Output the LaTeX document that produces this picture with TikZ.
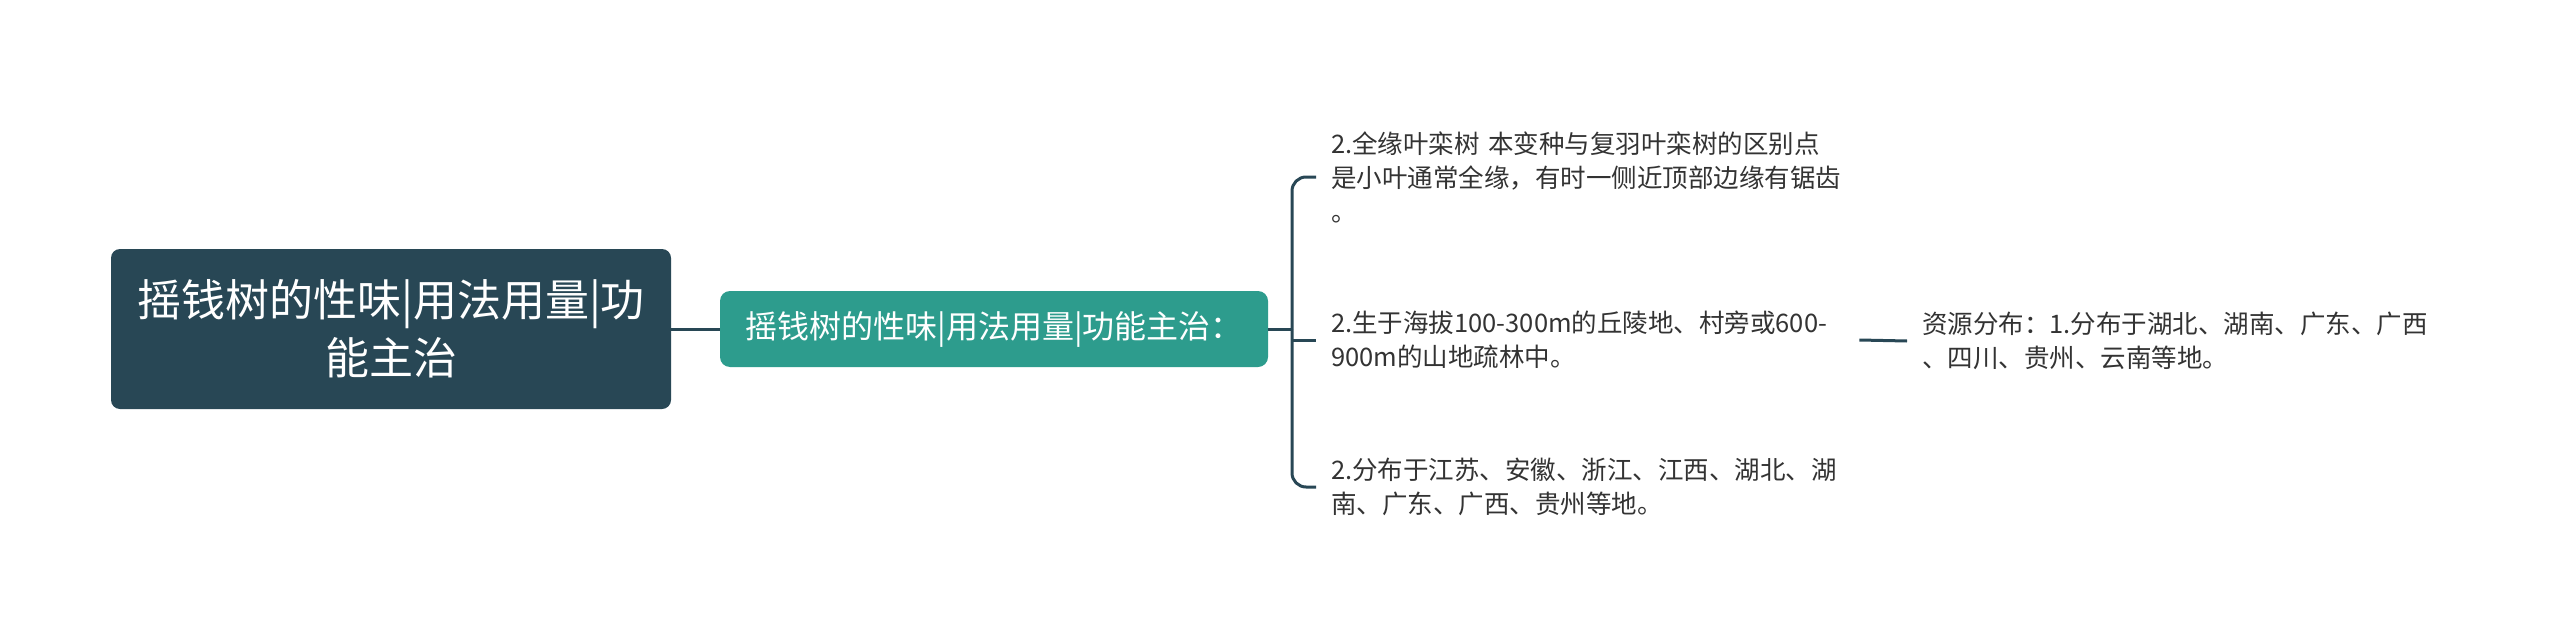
\documentclass[tikz,border=0pt]{standalone}
\usepackage{fontspec}
\setmainfont{Noto Sans CJK SC}
\newfontfamily\cjk{Noto Sans CJK SC}
\definecolor{rootc}{HTML}{284755}
\definecolor{subc}{HTML}{2D9C8D}
\definecolor{linec}{HTML}{284755}
\definecolor{txtc}{HTML}{333333}
\begin{document}
\begin{tikzpicture}[x=1pt,y=-1pt,
  rootbox/.style={fill=rootc, rounded corners=9pt, text=white, minimum width=560pt, minimum height=160pt, align=center, font=\cjk\fontsize{44}{58}\selectfont, inner sep=0pt},
  subbox/.style={fill=subc, rounded corners=10pt, text=white, minimum width=548pt, minimum height=76pt, font=\cjk\fontsize{32}{40}\selectfont, inner sep=0pt},
  leaf/.style={anchor=west, align=left, text width=514pt, inner sep=0pt, text=txtc, font=\cjk\fontsize{25.5}{34}\selectfont},
  conn/.style={draw=linec, line width=3pt},
]
\fill[white] (0,0) rectangle (2560,642);
\useasboundingbox (0,0) rectangle (2560,642);

\node[rootbox] (root) at (391,329) {摇钱树的性味|用法用量|功\\能主治};
\node[subbox] (sub) at (994,329) {摇钱树的性味|用法用量|功能主治：};

\node[leaf] (leaf1) at (1331,177) {2.全缘叶栾树 本变种与复羽叶栾树的区别点\\是小叶通常全缘，有时一侧近顶部边缘有锯齿\\。};
\node[leaf] (leaf2) at (1331,340) {2.生于海拔100-300m的丘陵地、村旁或600-\\900m的山地疏林中。};
\node[leaf] (leaf3) at (1331,487) {2.分布于江苏、安徽、浙江、江西、湖北、湖\\南、广东、广西、贵州等地。};
\node[leaf, text width=512pt] (leaf4) at (1922,341) {资源分布：1.分布于湖北、湖南、广东、广西\\、四川、贵州、云南等地。};

\coordinate (bx) at (1292,329);

\draw[conn] (root.east) -- (sub.west);
\draw[conn] (sub.east) -- (bx);
\draw[conn, rounded corners=14pt] (bx) |- ([xshift=-15pt]leaf1.west);
\draw[conn, rounded corners=14pt] (bx) |- ([xshift=-15pt]leaf3.west);
\draw[conn] (bx |- leaf2.west) -- ([xshift=-15pt]leaf2.west);
\draw[conn] ([xshift=14pt]leaf2.east) -- ([xshift=-15pt]leaf4.west);
\end{tikzpicture}
\end{document}
